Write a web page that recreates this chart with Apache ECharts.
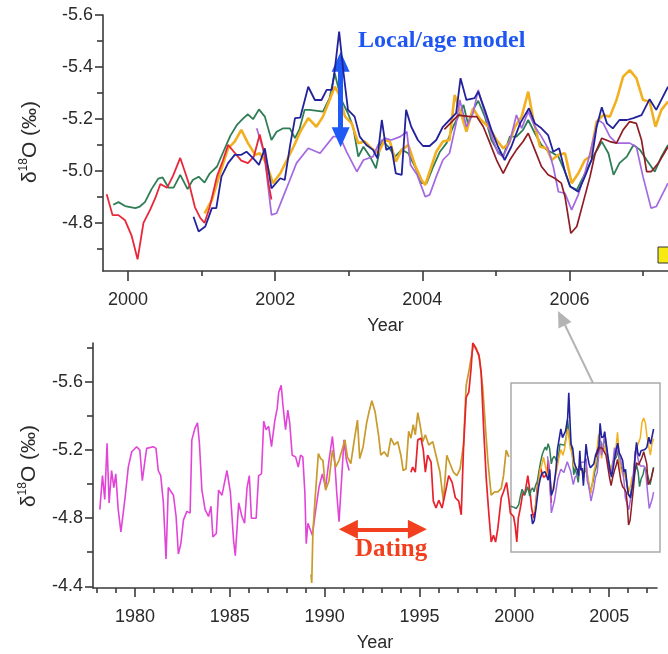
<!DOCTYPE html>
<html>
<head>
<meta charset="utf-8">
<script src="https://cdn.jsdelivr.net/npm/echarts@6/dist/echarts.min.js"></script>
<style>
  html, body { margin: 0; padding: 0; background: #fff; }
  #chart { width: 668px; height: 654px; }
</style>
</head>
<body>
<div id="chart"></div>
<script>
// ---- Coral δ18O records, [decimal year, δ18O ‰] ----

// Recent overlapping cores (1999.7 - 2007.3)
const redRecent = [[1999.71,-4.91],[1999.79,-4.83],[1999.87,-4.83],[1999.96,-4.81],[2000.05,-4.75],[2000.13,-4.66],[2000.21,-4.80],[2000.30,-4.85],[2000.37,-4.895],[2000.44,-4.95],[2000.53,-4.935],[2000.61,-4.98],[2000.71,-5.05],[2000.77,-5.00],[2000.84,-4.94],[2000.91,-4.86],[2000.98,-4.82],[2001.04,-4.80],[2001.11,-4.86],[2001.21,-4.98],[2001.29,-5.04],[2001.36,-5.10],[2001.45,-5.07],[2001.54,-5.04],[2001.63,-5.03],[2001.71,-5.055],[2001.79,-5.14],[2001.85,-5.07],[2001.91,-4.95],[2001.95,-4.89]];

const greenCore = [[1999.80,-4.87],[1999.87,-4.88],[1999.96,-4.865],[2000.10,-4.857],[2000.16,-4.863],[2000.23,-4.88],[2000.32,-4.93],[2000.41,-4.97],[2000.47,-4.975],[2000.55,-4.936],[2000.62,-4.936],[2000.71,-4.985],[2000.81,-4.93],[2000.88,-4.965],[2000.96,-4.978],[2001.04,-4.955],[2001.11,-4.99],[2001.21,-5.017],[2001.29,-5.07],[2001.39,-5.135],[2001.48,-5.177],[2001.57,-5.203],[2001.63,-5.218],[2001.70,-5.199],[2001.78,-5.237],[2001.86,-5.209],[2001.95,-5.119],[2002.02,-5.151],[2002.11,-5.164],[2002.20,-5.164],[2002.27,-5.126],[2002.33,-5.16],[2002.40,-5.235],[2002.47,-5.235],[2002.65,-5.228],[2002.74,-5.28],[2002.81,-5.376],[2002.90,-5.273],[2002.99,-5.222],[2003.06,-5.17],[2003.13,-5.055],[2003.20,-5.093],[2003.29,-5.055],[2003.37,-5.01],[2003.45,-5.119],[2003.54,-5.093],[2003.63,-5.055],[2003.72,-5.081],[2003.81,-5.068],[2003.90,-5.017],[2003.99,-4.953],[2004.06,-4.953],[2004.15,-5.017],[2004.24,-5.074],[2004.33,-5.107],[2004.42,-5.17],[2004.51,-5.222],[2004.56,-5.254],[2004.62,-5.183],[2004.69,-5.235],[2004.76,-5.27],[2004.85,-5.209],[2004.94,-5.119],[2005.03,-5.074],[2005.10,-5.055],[2005.19,-5.132],[2005.28,-5.132],[2005.37,-5.158],[2005.44,-5.196],[2005.53,-5.145],[2005.62,-5.10],[2005.69,-5.081],[2005.78,-5.068],[2005.85,-5.055],[2005.94,-4.997],[2006.01,-4.94],[2006.10,-4.927],[2006.19,-4.978],[2006.28,-5.03],[2006.35,-5.068],[2006.44,-5.113],[2006.53,-5.068],[2006.60,-4.985],[2006.68,-5.03],[2006.78,-5.055],[2006.87,-5.10],[2006.96,-5.081],[2007.05,-5.042],[2007.16,-4.997],[2007.25,-5.055],[2007.34,-5.10]];

const navyCore = [[2000.89,-4.824],[2000.96,-4.767],[2001.05,-4.786],[2001.14,-4.857],[2001.20,-4.857],[2001.27,-4.978],[2001.36,-5.03],[2001.45,-5.062],[2001.54,-5.062],[2001.61,-5.074],[2001.70,-5.049],[2001.78,-5.023],[2001.86,-5.087],[2001.95,-4.933],[2002.07,-4.972],[2002.13,-4.965],[2002.20,-5.093],[2002.27,-5.203],[2002.34,-5.205],[2002.45,-5.324],[2002.54,-5.273],[2002.63,-5.273],[2002.70,-5.312],[2002.77,-5.312],[2002.81,-5.388],[2002.87,-5.536],[2002.93,-5.376],[2002.99,-5.235],[2003.08,-5.209],[2003.15,-5.132],[2003.24,-5.10],[2003.33,-5.081],[2003.39,-5.049],[2003.45,-5.196],[2003.51,-5.081],[2003.58,-5.093],[2003.64,-4.991],[2003.72,-4.985],[2003.78,-5.235],[2003.85,-5.17],[2003.94,-5.119],[2004.01,-5.096],[2004.10,-5.096],[2004.19,-5.119],[2004.28,-5.17],[2004.37,-5.196],[2004.46,-5.222],[2004.52,-5.357],[2004.60,-5.273],[2004.71,-5.28],[2004.76,-5.305],[2004.85,-5.235],[2004.94,-5.158],[2005.03,-5.093],[2005.12,-5.042],[2005.21,-5.093],[2005.33,-5.183],[2005.45,-5.241],[2005.53,-5.183],[2005.62,-5.164],[2005.71,-5.138],[2005.78,-5.074],[2005.86,-5.087],[2005.94,-4.997],[2006.01,-4.94],[2006.12,-4.92],[2006.21,-4.978],[2006.30,-5.042],[2006.37,-5.17],[2006.44,-5.245],[2006.51,-5.183],[2006.59,-5.164],[2006.68,-5.196],[2006.78,-5.196],[2006.87,-5.203],[2006.98,-5.215],[2007.09,-5.276],[2007.18,-5.235],[2007.34,-5.324]];

const goldCore = [[2001.04,-4.837],[2001.14,-4.888],[2001.25,-4.991],[2001.36,-5.087],[2001.45,-5.113],[2001.54,-5.158],[2001.63,-5.107],[2001.73,-5.062],[2001.79,-5.068],[2001.88,-5.03],[2001.97,-4.953],[2002.07,-4.991],[2002.16,-5.042],[2002.25,-5.093],[2002.34,-5.15],[2002.45,-5.203],[2002.56,-5.17],[2002.65,-5.209],[2002.74,-5.273],[2002.81,-5.324],[2002.86,-5.30],[2002.95,-5.209],[2003.04,-5.183],[2003.13,-5.107],[2003.22,-5.113],[2003.31,-5.087],[2003.40,-5.068],[2003.49,-5.119],[2003.56,-5.113],[2003.64,-5.036],[2003.72,-5.081],[2003.81,-5.10],[2003.90,-5.023],[2003.99,-4.965],[2004.04,-4.946],[2004.10,-4.997],[2004.19,-5.074],[2004.28,-5.113],[2004.37,-5.119],[2004.44,-5.292],[2004.51,-5.235],[2004.60,-5.151],[2004.69,-5.241],[2004.76,-5.209],[2004.80,-5.196],[2004.90,-5.17],[2005.01,-5.119],[2005.10,-5.087],[2005.18,-5.107],[2005.26,-5.17],[2005.35,-5.209],[2005.44,-5.305],[2005.51,-5.196],[2005.60,-5.093],[2005.69,-5.087],[2005.76,-5.042],[2005.85,-5.062],[2005.94,-5.068],[2006.03,-4.953],[2006.12,-4.99],[2006.21,-5.042],[2006.28,-5.055],[2006.37,-5.19],[2006.46,-5.215],[2006.55,-5.209],[2006.64,-5.273],[2006.73,-5.363],[2006.82,-5.388],[2006.91,-5.357],[2007.00,-5.273],[2007.09,-5.267],[2007.17,-5.17],[2007.25,-5.235],[2007.34,-5.267]];

const purpleCore = [[2001.75,-5.164],[2001.85,-5.07],[2001.95,-4.831],[2002.02,-4.837],[2002.11,-4.901],[2002.20,-4.965],[2002.29,-5.03],[2002.45,-5.087],[2002.61,-5.068],[2002.79,-5.132],[2002.88,-5.132],[2002.97,-5.074],[2003.11,-4.997],[2003.20,-5.042],[2003.33,-5.055],[2003.40,-5.10],[2003.49,-5.126],[2003.58,-5.119],[2003.70,-5.132],[2003.79,-5.151],[2003.84,-5.023],[2003.93,-4.985],[2004.04,-4.901],[2004.10,-4.908],[2004.19,-4.978],[2004.28,-5.042],[2004.37,-5.068],[2004.46,-5.183],[2004.51,-5.273],[2004.60,-5.17],[2004.69,-5.222],[2004.76,-5.312],[2004.85,-5.222],[2004.94,-5.138],[2005.03,-5.068],[2005.10,-5.055],[2005.19,-5.113],[2005.28,-5.215],[2005.35,-5.164],[2005.44,-5.228],[2005.53,-5.17],[2005.62,-5.132],[2005.71,-5.087],[2005.78,-5.017],[2005.85,-4.92],[2005.94,-4.914],[2006.03,-4.85],[2006.12,-4.908],[2006.21,-4.991],[2006.28,-5.068],[2006.39,-5.196],[2006.46,-5.183],[2006.55,-5.132],[2006.64,-5.107],[2006.73,-5.107],[2006.82,-5.107],[2006.91,-5.093],[2007.00,-4.978],[2007.11,-4.857],[2007.18,-4.863],[2007.27,-4.914],[2007.34,-4.953]];

const brownCore = [[2004.30,-5.16],[2004.49,-5.215],[2004.65,-5.209],[2004.74,-5.209],[2004.83,-5.17],[2004.92,-5.107],[2005.01,-5.042],[2005.10,-4.991],[2005.19,-5.042],[2005.28,-5.081],[2005.37,-5.113],[2005.44,-5.145],[2005.53,-5.081],[2005.62,-5.017],[2005.71,-4.985],[2005.80,-4.972],[2005.89,-4.953],[2005.94,-4.901],[2006.02,-4.76],[2006.10,-4.786],[2006.19,-4.882],[2006.28,-4.978],[2006.35,-5.068],[2006.44,-5.126],[2006.55,-5.113],[2006.64,-5.107],[2006.73,-5.158],[2006.82,-5.19],[2006.91,-5.183],[2006.98,-5.119],[2007.05,-4.997],[2007.11,-4.997],[2007.21,-5.03],[2007.34,-5.093]];

// Long records (1978 - 2000)
const magentaLong = [[1978.15,-4.85],[1978.29,-5.05],[1978.41,-4.91],[1978.53,-5.24],[1978.64,-4.89],[1978.77,-5.08],[1978.89,-4.98],[1978.99,-5.06],[1979.12,-4.85],[1979.26,-4.72],[1979.47,-4.91],[1979.65,-5.10],[1979.83,-5.19],[1980.09,-5.22],[1980.26,-5.20],[1980.39,-5.02],[1980.53,-5.14],[1980.62,-5.21],[1980.97,-5.22],[1981.11,-5.21],[1981.23,-5.08],[1981.36,-5.05],[1981.50,-4.89],[1981.64,-4.56],[1981.76,-4.98],[1982.03,-4.935],[1982.17,-4.81],[1982.29,-4.59],[1982.42,-4.65],[1982.56,-4.79],[1982.74,-4.84],[1982.91,-4.83],[1983.00,-5.26],[1983.17,-5.33],[1983.30,-5.36],[1983.40,-5.24],[1983.53,-4.965],[1983.70,-4.85],[1983.88,-4.81],[1984.01,-4.87],[1984.11,-4.69],[1984.29,-4.71],[1984.41,-4.965],[1984.59,-4.935],[1984.85,-5.08],[1985.03,-4.955],[1985.20,-4.67],[1985.29,-4.58],[1985.47,-4.89],[1985.64,-4.81],[1985.78,-4.77],[1985.91,-4.98],[1986.03,-5.05],[1986.14,-4.80],[1986.39,-4.80],[1986.52,-5.05],[1986.67,-5.06],[1986.79,-5.37],[1986.91,-5.32],[1987.05,-5.34],[1987.20,-5.22],[1987.37,-5.37],[1987.50,-5.445],[1987.58,-5.54],[1987.71,-5.58],[1987.81,-5.455],[1987.94,-5.32],[1988.06,-5.435],[1988.16,-5.36],[1988.29,-5.17],[1988.47,-5.16],[1988.61,-5.10],[1988.73,-5.17],[1988.85,-5.16],[1988.96,-4.945],[1989.03,-4.65],[1989.12,-4.77],[1989.35,-4.70],[1989.52,-4.84],[1989.70,-4.98],[1989.88,-5.06],[1990.05,-4.98],[1990.23,-5.14],[1990.41,-5.28],[1990.53,-5.14],[1990.64,-4.945],[1990.76,-4.78],[1990.90,-5.04],[1991.02,-5.26],[1991.15,-5.14],[1991.29,-5.08]];

const goldLong = [[1989.28,-4.47],[1989.32,-4.42],[1989.38,-4.71],[1989.49,-4.905],[1989.67,-5.18],[1989.79,-5.15],[1989.91,-5.14],[1990.05,-4.965],[1990.23,-5.02],[1990.41,-5.20],[1990.58,-5.10],[1990.76,-5.14],[1990.94,-5.21],[1991.07,-5.26],[1991.20,-5.16],[1991.38,-5.12],[1991.55,-5.25],[1991.73,-5.376],[1991.85,-5.15],[1992.03,-5.22],[1992.21,-5.357],[1992.35,-5.43],[1992.49,-5.49],[1992.66,-5.425],[1992.84,-5.29],[1992.96,-5.17],[1993.14,-5.19],[1993.32,-5.16],[1993.49,-5.27],[1993.67,-5.23],[1993.85,-5.25],[1994.02,-5.17],[1994.14,-5.08],[1994.29,-5.09],[1994.43,-5.31],[1994.55,-5.27],[1994.67,-5.35],[1994.78,-5.29],[1994.91,-5.42],[1995.03,-5.35],[1995.17,-5.25],[1995.31,-5.29],[1995.49,-5.23],[1995.70,-5.25],[1995.87,-5.17],[1996.08,-5.07],[1996.26,-4.90],[1996.44,-5.17],[1996.61,-5.12],[1996.79,-5.07],[1996.97,-5.05],[1997.14,-5.09],[1997.32,-5.23],[1997.46,-5.58],[1997.60,-5.66],[1997.72,-5.74],[1997.85,-5.82],[1997.99,-5.80],[1998.16,-5.74],[1998.34,-5.56],[1998.48,-5.33],[1998.61,-5.13],[1998.78,-4.935],[1998.96,-4.955],[1999.13,-4.955],[1999.31,-4.975],[1999.43,-5.05],[1999.57,-5.20],[1999.71,-5.16]];

const redLong = [[1994.55,-5.07],[1994.64,-5.10],[1994.78,-5.07],[1994.91,-5.26],[1995.08,-5.27],[1995.20,-5.20],[1995.31,-5.07],[1995.43,-5.17],[1995.61,-5.13],[1995.73,-4.90],[1995.87,-4.86],[1996.02,-4.905],[1996.19,-4.86],[1996.37,-4.955],[1996.54,-5.05],[1996.72,-5.01],[1996.89,-4.92],[1997.07,-4.90],[1997.20,-4.82],[1997.32,-5.21],[1997.46,-5.51],[1997.60,-5.54],[1997.72,-5.68],[1997.81,-5.83],[1997.95,-5.80],[1998.13,-5.76],[1998.25,-5.66],[1998.38,-5.33],[1998.52,-5.03],[1998.66,-4.82],[1998.78,-4.66],[1998.90,-4.70],[1999.01,-4.66],[1999.13,-4.74],[1999.31,-4.92],[1999.43,-4.955],[1999.59,-5.01]];

// Tick values
const topYearLabels = [2000, 2002, 2004, 2006];
const topYearMinor = [2001, 2003, 2005, 2007];
const topIsoLabels = [-5.6, -5.4, -5.2, -5.0, -4.8];
const topIsoMinor = [-5.5, -5.3, -5.1, -4.9, -4.7];
const botYearLabels = [1980, 1985, 1990, 1995, 2000, 2005];
const botYearMinor = [1978, 1979, 1981, 1982, 1983, 1984, 1986, 1987, 1988, 1989, 1991, 1992, 1993, 1994, 1996, 1997, 1998, 1999, 2001, 2002, 2003, 2004, 2006, 2007];
const botIsoLabels = [-5.6, -5.2, -4.8, -4.4];
const botIsoMinor = [-5.8, -5.4, -5.0, -4.6];

// Annotation arrows in data coordinates
const ageModelArrow = { year: 2002.89, from: -5.42, to: -5.13 };
const datingArrow = { from: 1991.25, to: 1994.89, iso: -4.735 };

const FONT = "'Liberation Sans', Arial, Helvetica, sans-serif";
const SERIF = "'Liberation Serif', 'DejaVu Serif', 'Times New Roman', serif";
const AXIS = '#3a3a3a';
const TEXT = '#2a2a2a';

const C = {
  red: '#e8283a', green: '#2f7d55', navy: '#22229c', gold: '#f2b020',
  purple: '#a468e0', brown: '#8e1d25', magenta: '#e244d8', goldLong: '#c99a2c', redLong: '#e8222c'
};

function xAxisPair(gridIndex, min, max, labels, minor, majorLen, minorLen) {
  return [
    {
      type: 'value', gridIndex, min, max, position: 'bottom',
      axisLine: { show: true, lineStyle: { color: AXIS, width: 1.6 } },
      axisTick: { show: true, customValues: labels, length: majorLen, lineStyle: { color: AXIS, width: 1.6 } },
      axisLabel: { show: true, customValues: labels, margin: 20, fontSize: 18, color: TEXT, fontFamily: FONT,
                   formatter: v => String(Math.round(v)) },
      splitLine: { show: false },
      name: 'Year', nameLocation: 'middle', nameGap: 46,
      nameTextStyle: { fontSize: 18, color: TEXT, fontFamily: FONT }
    },
    {
      type: 'value', gridIndex, min, max, position: 'bottom',
      axisLine: { show: false },
      axisTick: { show: true, customValues: minor, length: minorLen, lineStyle: { color: AXIS, width: 1.6 } },
      axisLabel: { show: false },
      splitLine: { show: false }
    }
  ];
}

function yAxisPair(gridIndex, min, max, labels, minor) {
  return [
    {
      type: 'value', gridIndex, min, max, inverse: true, position: 'left',
      axisLine: { show: true, lineStyle: { color: AXIS, width: 1.6 } },
      axisTick: { show: true, customValues: labels, length: 8, lineStyle: { color: AXIS, width: 1.6 } },
      axisLabel: { show: true, customValues: labels, margin: 10, fontSize: 18, color: TEXT, fontFamily: FONT,
                   formatter: v => v.toFixed(1) },
      splitLine: { show: false }
    },
    {
      type: 'value', gridIndex, min, max, inverse: true, position: 'left',
      axisLine: { show: false },
      axisTick: { show: true, customValues: minor, length: 6, lineStyle: { color: AXIS, width: 1.6 } },
      axisLabel: { show: false },
      splitLine: { show: false }
    }
  ];
}

function line(data, color, width, axis, z, extra) {
  return Object.assign({
    type: 'line', data, xAxisIndex: axis, yAxisIndex: axis,
    showSymbol: false, symbol: 'none', smooth: false, silent: true, z,
    lineStyle: { color, width }, itemStyle: { color }, emphasis: { disabled: true }
  }, extra || {});
}

function arrowMark(color, width, size, p1, p2) {
  return {
    markLine: {
      silent: true, animation: false,
      symbol: ['triangle', 'triangle'], symbolSize: size,
      label: { show: false }, emphasis: { disabled: true },
      lineStyle: { color, width, type: 'solid', opacity: 1 },
      data: [[{ coord: p1 }, { coord: p2 }]]
    }
  };
}

const chart = echarts.init(document.getElementById('chart'), null, { renderer: 'canvas' });

const topX = xAxisPair(0, 1999.66, 2007.34, topYearLabels, topYearMinor, 10, 5);
const botX = xAxisPair(1, 1977.79, 2007.52, botYearLabels, botYearMinor, 9, 5);
const topY = yAxisPair(0, -5.6, -4.615, topIsoLabels, topIsoMinor);
const botY = yAxisPair(1, -5.829, -4.39, botIsoLabels, botIsoMinor);

const isoTitle = {
  text: '{d|δ}{s|18}{d|O (‰)}',
  rich: {
    d: { fontSize: 21, fontFamily: FONT, fill: TEXT, lineHeight: 25, verticalAlign: 'middle' },
    s: { fontSize: 12, fontFamily: FONT, fill: TEXT, lineHeight: 12, verticalAlign: 'top' }
  },
  align: 'center', verticalAlign: 'middle'
};

chart.setOption({
  animation: false,
  backgroundColor: '#ffffff',
  grid: [
    { left: 103, top: 15, width: 565, height: 256 },
    { left: 93, top: 343, width: 564, height: 245 }
  ],
  xAxis: [topX[0], topX[1], botX[0], botX[1]],
  yAxis: [topY[0], topY[1], botY[0], botY[1]],
  series: [
    // upper panel: recent cores
    line(greenCore, C.green, 1.8, 0, 2),
    line(goldCore, C.gold, 2.6, 0, 3),
    line(purpleCore, C.purple, 1.7, 0, 4),
    line(brownCore, C.brown, 1.7, 0, 5),
    line(redRecent, C.red, 1.8, 0, 6),
    line(navyCore, C.navy, 1.8, 0, 7,
      arrowMark('#1f5af5', 5, [18, 20],
        [ageModelArrow.year, ageModelArrow.from], [ageModelArrow.year, ageModelArrow.to])),

    // lower panel: full records
    line(magentaLong, C.magenta, 1.6, 2, 2),
    line(goldLong, C.goldLong, 1.7, 2, 3),
    line(redLong.concat(redRecent), C.redLong, 1.7, 2, 4,
      arrowMark('#f2401e', 4, [19, 19],
        [datingArrow.from, datingArrow.iso], [datingArrow.to, datingArrow.iso])),
    line(greenCore, C.green, 1.5, 2, 5),
    line(goldCore, C.gold, 1.5, 2, 5),
    line(purpleCore, C.purple, 1.5, 2, 6),
    line(brownCore, C.brown, 1.5, 2, 6),
    line(navyCore, C.navy, 1.6, 2, 7)
  ],
  graphic: [
    { type: 'text', x: 30, y: 142, rotation: Math.PI / 2, style: Object.assign({}, isoTitle) },
    { type: 'text', x: 29, y: 466, rotation: Math.PI / 2, style: Object.assign({}, isoTitle) },
    { type: 'text', x: 358, y: 41, style: { text: 'Local/age model', font: 'bold 24px ' + SERIF,
      fill: '#1f56f2', align: 'left', verticalAlign: 'middle' } },
    { type: 'text', x: 355, y: 550, style: { text: 'Dating', font: 'bold 25px ' + SERIF,
      fill: '#f2401e', align: 'left', verticalAlign: 'middle' } },
    // inset frame and pointer to the upper panel
    { type: 'rect', shape: { x: 511, y: 383, width: 149, height: 169 },
      style: { fill: 'none', stroke: '#ababab', lineWidth: 1.5 }, z: 1 },
    { type: 'line', shape: { x1: 593, y1: 383, x2: 564, y2: 323 },
      style: { stroke: '#b4b4b4', lineWidth: 2 } },
    { type: 'polygon', shape: { points: [[558, 311], [571.5, 322], [558.5, 328.5]] },
      style: { fill: '#b4b4b4' } },
    // legend swatch at the panel edge
    { type: 'rect', shape: { x: 658, y: 247, width: 14, height: 16 },
      style: { fill: '#f7ea12', stroke: '#333', lineWidth: 1 }, z: 10 }
  ]
});
</script>
</body>
</html>
